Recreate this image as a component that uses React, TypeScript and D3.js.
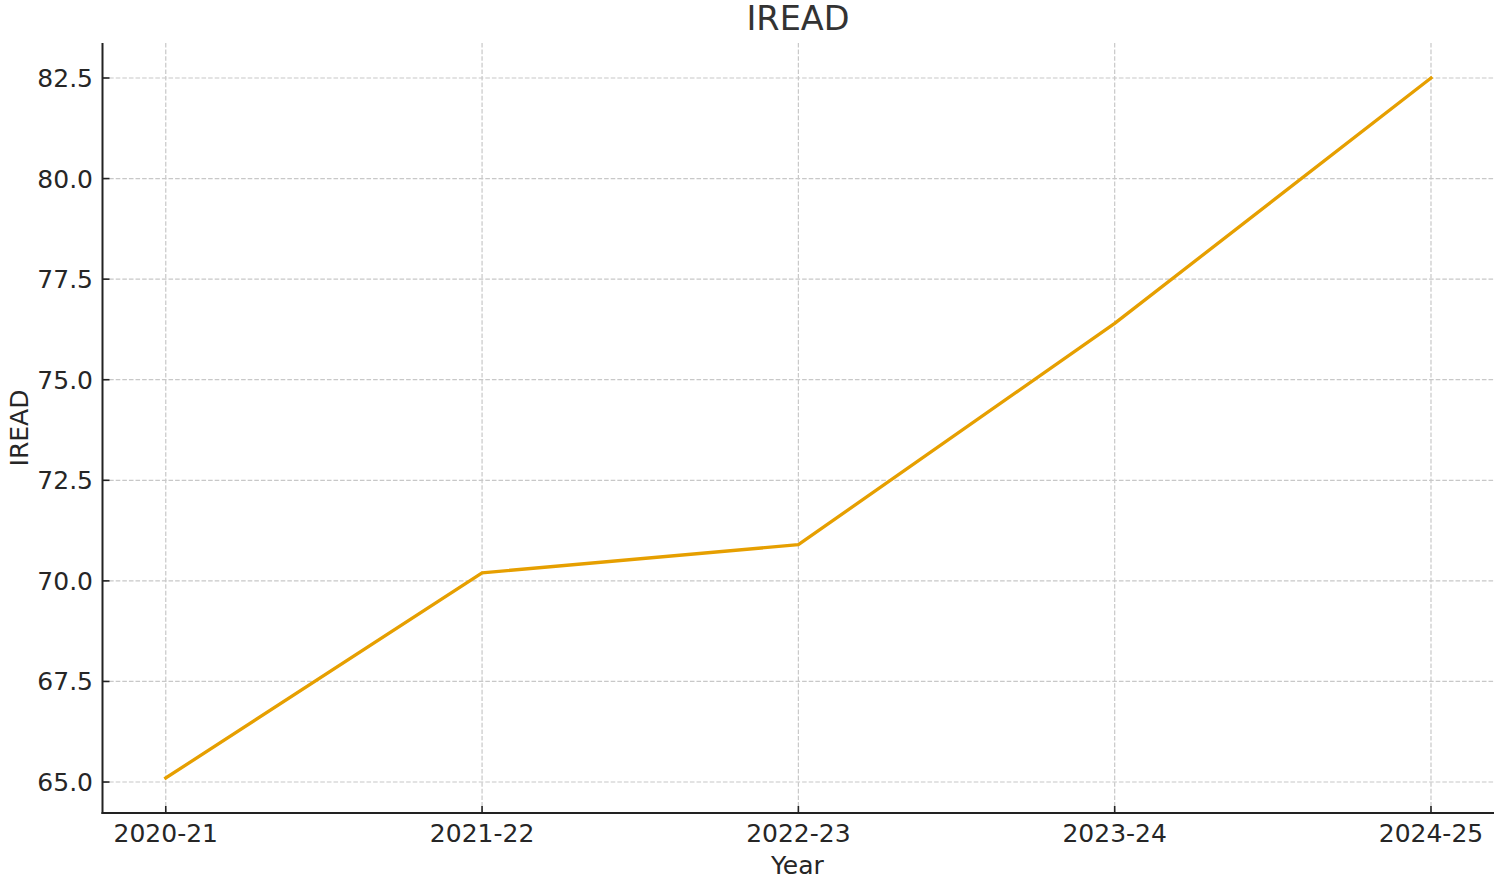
import React from "react";
import * as d3 from "d3";

const categories = ["2020-21", "2021-22", "2022-23", "2023-24", "2024-25"];
const values = [65.1, 70.2, 70.9, 76.4, 82.5];
const yTicks = [65.0, 67.5, 70.0, 72.5, 75.0, 77.5, 80.0, 82.5];
const titleText = "IREAD";
const xLabel = "Year";
const yLabel = "IREAD";

const W = 1494;
const H = 881;
const left = 102.5;
const right = 1494.25;
const top = 43;
const bottom = 813;
const font = "DejaVu Sans, sans-serif";
const textColor = "#262626";

export default function App() {
  const x = d3.scaleLinear().domain([-0.2, categories.length - 1 + 0.2]).range([left, right]);
  const ymin = d3.min(values)!;
  const ymax = d3.max(values)!;
  const pad = (ymax - ymin) * 0.05;
  const y = d3.scaleLinear().domain([ymin - pad, ymax + pad]).range([bottom, top]);
  const line = d3
    .line<number>()
    .x((_, i) => x(i))
    .y((d) => y(d));

  return (
    <svg
      width={W}
      height={H}
      style={{ position: "fixed", left: 0, top: 0, background: "#fff" }}
      fontFamily={font}
    >
      <rect x={0} y={0} width={W} height={H} fill="#fff" />
      {categories.map((c, i) => (
        <line
          key={"gx" + c}
          x1={x(i)}
          x2={x(i)}
          y1={top}
          y2={bottom}
          stroke="#c8c8c8"
          strokeWidth={1.2}
          strokeDasharray="4.6,2"
        />
      ))}
      {yTicks.map((t) => (
        <line
          key={"gy" + t}
          x1={left}
          x2={right}
          y1={y(t)}
          y2={y(t)}
          stroke="#c8c8c8"
          strokeWidth={1.2}
          strokeDasharray="4.6,2"
        />
      ))}
      <path d={line(values) || ""} fill="none" stroke="#E69F00" strokeWidth={3.3} strokeLinejoin="round" strokeLinecap="square" />
      <line x1={left} x2={left} y1={top} y2={bottom + 1} stroke="#222" strokeWidth={2} />
      <line x1={left - 1} x2={right} y1={bottom} y2={bottom} stroke="#222" strokeWidth={2} />
      {yTicks.map((t) => (
        <g key={"ty" + t}>
          <line x1={left} x2={left + 7} y1={y(t)} y2={y(t)} stroke="#222" strokeWidth={1.6} />
          <text x={left - 9.5} y={y(t)} dy="0.36em" textAnchor="end" fontSize={25} fill={textColor}>
            {d3.format(".1f")(t)}
          </text>
        </g>
      ))}
      {categories.map((c, i) => (
        <g key={"tx" + c}>
          <line x1={x(i)} x2={x(i)} y1={bottom} y2={bottom - 7} stroke="#222" strokeWidth={1.6} />
          <text x={x(i)} y={842} textAnchor="middle" fontSize={25} fill={textColor}>
            {c}
          </text>
        </g>
      ))}
      <text x={(left + right) / 2 - 1} y={874} textAnchor="middle" fontSize={25} fill={textColor}>
        {xLabel}
      </text>
      <text
        transform={`translate(27.5, ${(top + bottom) / 2}) rotate(-90)`}
        textAnchor="middle"
        fontSize={25}
        fill={textColor}
      >
        {yLabel}
      </text>
      <text x={798} y={30} textAnchor="middle" fontSize={33.5} fill="#333">
        {titleText}
      </text>
    </svg>
  );
}
